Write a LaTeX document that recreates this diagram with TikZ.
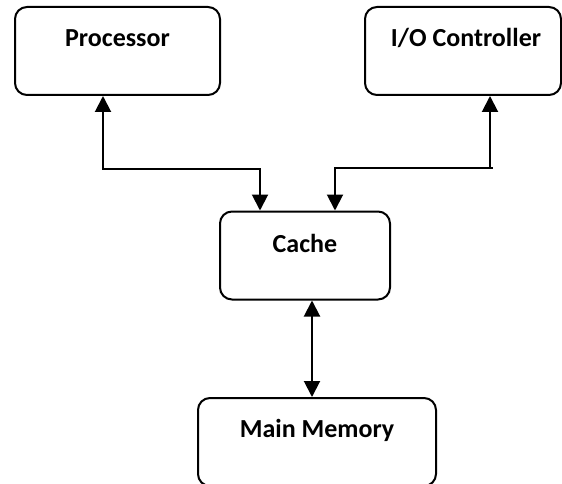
\documentclass[tikz,border=0pt]{standalone}
\usepackage{fontspec}
\setmainfont{Carlito}
\usetikzlibrary{arrows.meta}

\tikzset{
  unitbox/.style={draw=black, line width=2pt, rounded corners=12pt,
    inner sep=0pt, minimum width=#1, minimum height=88pt},
  boxtitle/.style={font=\bfseries\fontsize{26}{30}\selectfont, inner sep=0pt},
  link/.style={line width=2pt, {Triangle[length=16pt,width=16pt]}-{Triangle[length=16pt,width=16pt]}},
}

\begin{document}
\begin{tikzpicture}[x=1pt, y=-1pt]
  \useasboundingbox (0,0) rectangle (562,484);

  % units
  \node[unitbox=205pt] (proc)  at (117.5,51) {};
  \node[unitbox=196pt] (io)    at (463,51)   {};
  \node[unitbox=170pt] (cache) at (305,255.5) {};
  \node[unitbox=238pt] (mem)   at (317,442)  {};

  % titles, set near the top of each unit
  \node[boxtitle] (proctxt)  at (117.5,38) {Processor};
  \node[boxtitle] (iotxt)    at (466,38)   {I/O Controller};
  \node[boxtitle] (cachetxt) at (305,243)  {Cache};
  \node[boxtitle] (memtxt)   at (317,430)  {Main Memory};

  % buses
  \coordinate (pbend) at (103,169);
  \coordinate (iobend) at (490,168);
  \draw[link] ([xshift=-14.5pt]proc.south) -- (pbend) -| ([xshift=-45pt]cache.north);
  \draw[link] ([xshift=27pt]io.south) -- (iobend) -| ([xshift=30pt]cache.north);
  \draw[line width=2pt] (iobend) -- ++(3,0);
  \draw[link] ([xshift=7pt]cache.south) -- ([xshift=-5pt]mem.north);
\end{tikzpicture}
\end{document}
